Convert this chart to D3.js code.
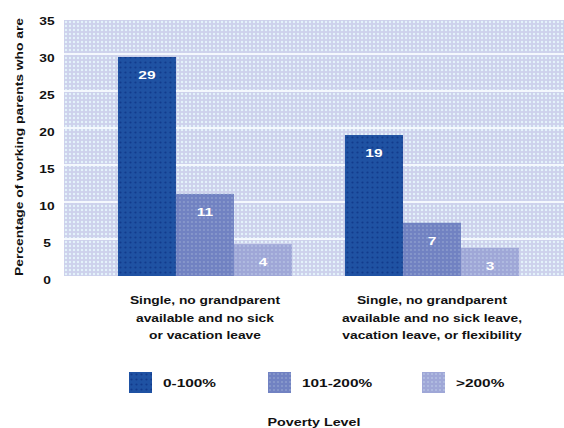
<!DOCTYPE html>
<html><head><meta charset="utf-8">
<script src="https://cdn.jsdelivr.net/npm/d3@7"></script>
<style>body{margin:0;background:#fff}svg{display:block}text{font-family:"Liberation Sans",Arial,sans-serif}</style>
</head><body><svg id="c" width="564" height="428"></svg>
<script>
const categories = [
  ["Single, no grandparent", "available and no sick", "or vacation leave"],
  ["Single, no grandparent", "available and no sick leave,", "vacation leave, or flexibility"]
];
const seriesNames = ["0-100%", "101-200%", ">200%"];
const values = [[29.6, 11.1, 4.3], [19.05, 7.2, 3.8]];
const valueLabels = [["29", "11", "4"], ["19", "7", "3"]];
const yTicks = [0, 5, 10, 15, 20, 25, 30, 35];
const yTitle = "Percentage of working parents who are";
const xTitle = "Poverty Level";

const svg = d3.select("#c");
const defs = svg.append("defs");
function pat(id, base, dot, size, r) {
  const p = defs.append("pattern").attr("id", id).attr("width", size).attr("height", size).attr("patternUnits", "userSpaceOnUse");
  p.append("rect").attr("width", size).attr("height", size).attr("fill", base);
  p.append("circle").attr("cx", size/2).attr("cy", size/2).attr("r", r).attr("fill", dot);
}
pat("bg", "#cdd1ec", "#e4f3fb", 4, 1.2);
pat("s0", "#1f52a3", "#123a8c", 5, 1.1);
pat("s1", "#7182c2", "#8a9bcc", 4, 1.1);
pat("s2", "#9fa7d7", "#b3bfe2", 4, 1.1);
const colors = ["url(#s0)", "url(#s1)", "url(#s2)"];

// horizontally stretched text helper
function stext(parent, x, y, str, size, sx, anchor, fill) {
  return parent.append("text")
    .attr("transform", `translate(${x},${y}) scale(${sx},1)`)
    .attr("text-anchor", anchor || "middle").attr("font-size", size).attr("font-weight", "bold")
    .attr("fill", fill || "#111").text(str);
}

const pLeft = 64, pRight = 564, pTop = 20, pBottom = 276;
const y = d3.scaleLinear().domain([0, 35]).range([276, 17]);
const x0 = d3.scaleBand().domain(d3.range(categories.length)).range([pLeft, pRight])
  .paddingInner(0.2335).paddingOuter(0.218).align(0.545);
const x1 = d3.scaleBand().domain(d3.range(seriesNames.length)).range([0, x0.bandwidth()]);

svg.append("rect").attr("x", pLeft).attr("y", pTop).attr("width", pRight - pLeft).attr("height", pBottom - pTop).attr("fill", "url(#bg)");

svg.append("g").selectAll("line").data(yTicks.filter(t => t > 0 && t < 35)).join("line")
  .attr("x1", pLeft).attr("x2", pRight).attr("y1", d => y(d)).attr("y2", d => y(d))
  .attr("stroke", "#f4f8fd").attr("stroke-width", 2);

// y axis via d3 axis, then restyle labels
const yAxis = d3.axisLeft(y).tickValues(yTicks).tickSize(0).tickPadding(0);
const ga = svg.append("g").attr("transform", `translate(47,4)`).call(yAxis);
ga.select(".domain").remove();
ga.selectAll("text").attr("text-anchor", "middle").attr("x", 0).attr("font-size", 11).attr("font-weight", "bold")
  .attr("fill", "#111").attr("transform", "scale(1.25,1)").attr("dy", "0.32em");

svg.append("text").attr("transform", "translate(23,147) rotate(-90)").attr("text-anchor", "middle")
  .attr("font-size", 10).attr("font-weight", "bold").attr("fill", "#111")
  .attr("textLength", 258).attr("lengthAdjust", "spacingAndGlyphs").text(yTitle);

const groups = svg.append("g").selectAll("g").data(values).join("g")
  .attr("transform", (d, i) => `translate(${x0(i)},0)`);
groups.selectAll("rect").data(d => d).join("rect")
  .attr("x", (d, j) => x1(j)).attr("width", x1.bandwidth())
  .attr("y", d => y(d)).attr("height", d => y(0) - y(d))
  .attr("fill", (d, j) => colors[j]);
groups.each(function (d, i) {
  const g = d3.select(this);
  d.forEach((v, j) => stext(g, x1(j) + x1.bandwidth() / 2, y(v) + 22, valueLabels[i][j], 11.5, 1.35, "middle", "#fff"));
});

const cg = svg.append("g");
categories.forEach((lines, i) => {
  const cx = x0(i) + x0.bandwidth() / 2;
  lines.forEach((ln, k) => stext(cg, cx, 304 + k * 17.5, ln, 11.5, 1.2, "middle"));
});

const legX = [129, 268, 422];
const lg = svg.append("g").selectAll("g").data(seriesNames).join("g")
  .attr("transform", (d, i) => `translate(${legX[i]},372)`);
lg.append("rect").attr("width", 23).attr("height", 21).attr("fill", (d, i) => colors[i]);
lg.each(function (d) { stext(d3.select(this), 34, 14.5, d, 11, 1.4, "start"); });

stext(svg, 314, 426, xTitle, 11, 1.3, "middle");
</script></body></html>
